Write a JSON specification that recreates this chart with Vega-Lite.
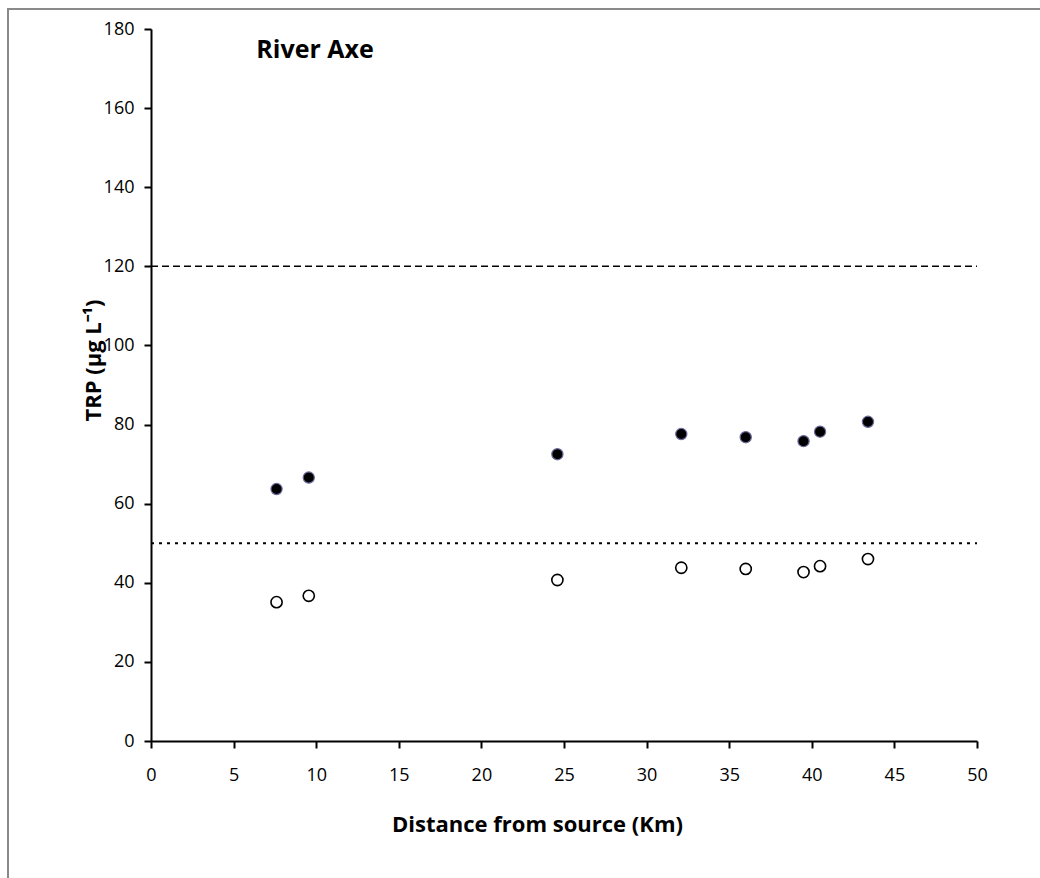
{
  "$schema": "https://vega.github.io/schema/vega-lite/v6.json",
  "autosize": {"type": "none"},
  "padding": {"left": 8, "top": 9, "right": -10, "bottom": -10},
  "width": 1042,
  "height": 879,
  "background": "white",
  "title": {
    "text": "River Axe",
    "anchor": "start",
    "frame": "group",
    "align": "center",
    "baseline": "alphabetic",
    "dx": 307,
    "offset": -51,
    "dy": 23,
    "font": "Open Sans",
    "fontSize": 25,
    "fontWeight": "bold",
    "color": "black"
  },
  "config": {
    "view": {"stroke": "#8a8a8a", "strokeWidth": 2},
    "font": "Open Sans",
    "axis": {
      "grid": false,
      "domainColor": "black",
      "domainWidth": 2,
      "tickColor": "black",
      "tickWidth": 2,
      "tickSize": 7,
      "labelFont": "Open Sans",
      "labelFontSize": 18,
      "labelColor": "black",
      "titleFont": "Open Sans",
      "titleFontSize": 22,
      "titleFontWeight": "bold",
      "titleColor": "black"
    }
  },
  "datasets": {
    "filled": [
      {"km": 7.6, "trp": 63.7},
      {"km": 9.55, "trp": 66.6},
      {"km": 24.6, "trp": 72.5},
      {"km": 32.1, "trp": 77.6},
      {"km": 36.0, "trp": 76.8},
      {"km": 39.5, "trp": 75.8},
      {"km": 40.5, "trp": 78.2},
      {"km": 43.4, "trp": 80.7}
    ],
    "open": [
      {"km": 7.6, "trp": 35.1},
      {"km": 9.55, "trp": 36.7},
      {"km": 24.6, "trp": 40.7},
      {"km": 32.1, "trp": 43.8},
      {"km": 36.0, "trp": 43.5},
      {"km": 39.5, "trp": 42.7},
      {"km": 40.5, "trp": 44.2},
      {"km": 43.4, "trp": 46.0}
    ],
    "upperLimit": [{"trp": 120}],
    "lowerLimit": [{"trp": 50}]
  },
  "layer": [
    {
      "data": {"name": "upperLimit"},
      "mark": {"type": "rule", "color": "black", "strokeWidth": 1.5, "strokeDash": [7, 4]},
      "encoding": {
        "x": {"datum": 0, "type": "quantitative"},
        "x2": {"datum": 50},
        "y": {"field": "trp", "type": "quantitative"}
      }
    },
    {
      "data": {"name": "lowerLimit"},
      "mark": {"type": "rule", "color": "black", "strokeWidth": 2, "strokeDash": [3, 5]},
      "encoding": {
        "x": {"datum": 0, "type": "quantitative"},
        "x2": {"datum": 50},
        "y": {"field": "trp", "type": "quantitative"}
      }
    },
    {
      "data": {"name": "open"},
      "mark": {"type": "point", "shape": "circle", "filled": false, "fill": "white", "stroke": "black", "strokeWidth": 1.6, "size": 125, "opacity": 1},
      "encoding": {
        "x": {"field": "km", "type": "quantitative"},
        "y": {"field": "trp", "type": "quantitative"}
      }
    },
    {
      "data": {"name": "filled"},
      "mark": {"type": "point", "shape": "circle", "filled": true, "fill": "black", "stroke": "#6a6a9c", "strokeWidth": 1.2, "size": 125, "opacity": 1},
      "encoding": {
        "x": {
          "field": "km",
          "type": "quantitative",
          "scale": {"domain": [0, 50], "range": [143, 969], "nice": false, "zero": false},
          "axis": {
            "title": "Distance from source (Km)",
            "orient": "bottom",
            "offset": -147,
            "values": [0, 5, 10, 15, 20, 25, 30, 35, 40, 45, 50],
            "labelPadding": 18,
            "labelFlush": false,
            "titleX": 529,
            "titleY": 90,
            "titleBaseline": "alphabetic",
            "titleAnchor": null
          }
        },
        "y": {
          "field": "trp",
          "type": "quantitative",
          "scale": {"domain": [0, 180], "range": [732, 20], "nice": false, "zero": false},
          "axis": {
            "title": "TRP (µg L⁻¹)",
            "orient": "left",
            "offset": -143,
            "values": [0, 20, 40, 60, 80, 100, 120, 140, 160, 180],
            "labelPadding": 10,
            "labelFlush": false,
            "titleX": -58,
            "titleY": 351,
            "titleAngle": -90,
            "titleAlign": "center",
            "titleBaseline": "middle"
          }
        }
      }
    }
  ]
}
